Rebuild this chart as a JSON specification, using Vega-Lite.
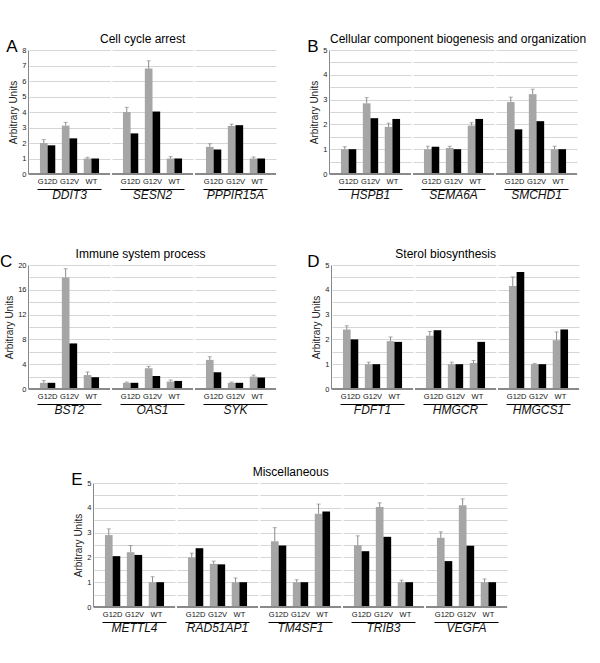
{
  "$schema": "https://vega.github.io/schema/vega-lite/v6.json",
  "padding": {"top": 33, "left": 0, "right": 2, "bottom": 2},
  "background": "white",
  "config": {
    "font": "Liberation Sans",
    "view": {"stroke": null},
    "axisY": {"labelOverlap": false, "labelSeparation": -10, "ticks": false, "labelPadding": 2, "labelFontSize": 7.5, "labelColor": "#222", "titleFontSize": 10, "titleFontWeight": "normal", "titleColor": "#222", "titlePadding": 3, "domainColor": "#888", "gridColor": "#d6d6d6"},
    "axisX": {"title": null, "labelAngle": 0, "ticks": false, "grid": false, "offset": 14, "labelPadding": -12, "labelFontSize": 7.5, "labelColor": "#111", "domainColor": "#000", "domainDash": [64, 200], "domainDashOffset": 256},
    "header": {"title": null, "labelOrient": "bottom", "labelFontStyle": "italic", "labelFontSize": 12, "labelPadding": 1, "labelColor": "#111"}
  },
  "datasets": {
    "expr": [
      {"panel": "A", "gene": "DDIT3", "cond": "G12D", "series": "s1", "value": 2.0, "hi": 2.22},
      {"panel": "A", "gene": "DDIT3", "cond": "G12D", "series": "s2", "value": 1.85},
      {"panel": "A", "gene": "DDIT3", "cond": "G12V", "series": "s1", "value": 3.12, "hi": 3.33},
      {"panel": "A", "gene": "DDIT3", "cond": "G12V", "series": "s2", "value": 2.3},
      {"panel": "A", "gene": "DDIT3", "cond": "WT", "series": "s1", "value": 1.0, "hi": 1.08},
      {"panel": "A", "gene": "DDIT3", "cond": "WT", "series": "s2", "value": 1.0},
      {"panel": "A", "gene": "SESN2", "cond": "G12D", "series": "s1", "value": 4.0, "hi": 4.3},
      {"panel": "A", "gene": "SESN2", "cond": "G12D", "series": "s2", "value": 2.62},
      {"panel": "A", "gene": "SESN2", "cond": "G12V", "series": "s1", "value": 6.8, "hi": 7.3},
      {"panel": "A", "gene": "SESN2", "cond": "G12V", "series": "s2", "value": 4.03},
      {"panel": "A", "gene": "SESN2", "cond": "WT", "series": "s1", "value": 1.0, "hi": 1.12},
      {"panel": "A", "gene": "SESN2", "cond": "WT", "series": "s2", "value": 1.0},
      {"panel": "A", "gene": "PPPIR15A", "cond": "G12D", "series": "s1", "value": 1.75, "hi": 1.95},
      {"panel": "A", "gene": "PPPIR15A", "cond": "G12D", "series": "s2", "value": 1.58},
      {"panel": "A", "gene": "PPPIR15A", "cond": "G12V", "series": "s1", "value": 3.1, "hi": 3.22},
      {"panel": "A", "gene": "PPPIR15A", "cond": "G12V", "series": "s2", "value": 3.15},
      {"panel": "A", "gene": "PPPIR15A", "cond": "WT", "series": "s1", "value": 1.0, "hi": 1.1},
      {"panel": "A", "gene": "PPPIR15A", "cond": "WT", "series": "s2", "value": 1.0},

      {"panel": "B", "gene": "HSPB1", "cond": "G12D", "series": "s1", "value": 1.0, "hi": 1.1},
      {"panel": "B", "gene": "HSPB1", "cond": "G12D", "series": "s2", "value": 1.0},
      {"panel": "B", "gene": "HSPB1", "cond": "G12V", "series": "s1", "value": 2.85, "hi": 3.08},
      {"panel": "B", "gene": "HSPB1", "cond": "G12V", "series": "s2", "value": 2.25},
      {"panel": "B", "gene": "HSPB1", "cond": "WT", "series": "s1", "value": 1.9, "hi": 2.05},
      {"panel": "B", "gene": "HSPB1", "cond": "WT", "series": "s2", "value": 2.22},
      {"panel": "B", "gene": "SEMA6A", "cond": "G12D", "series": "s1", "value": 1.0, "hi": 1.12},
      {"panel": "B", "gene": "SEMA6A", "cond": "G12D", "series": "s2", "value": 1.1},
      {"panel": "B", "gene": "SEMA6A", "cond": "G12V", "series": "s1", "value": 1.05, "hi": 1.12},
      {"panel": "B", "gene": "SEMA6A", "cond": "G12V", "series": "s2", "value": 1.0},
      {"panel": "B", "gene": "SEMA6A", "cond": "WT", "series": "s1", "value": 1.95, "hi": 2.07},
      {"panel": "B", "gene": "SEMA6A", "cond": "WT", "series": "s2", "value": 2.22},
      {"panel": "B", "gene": "SMCHD1", "cond": "G12D", "series": "s1", "value": 2.9, "hi": 3.1},
      {"panel": "B", "gene": "SMCHD1", "cond": "G12D", "series": "s2", "value": 1.8},
      {"panel": "B", "gene": "SMCHD1", "cond": "G12V", "series": "s1", "value": 3.22, "hi": 3.42},
      {"panel": "B", "gene": "SMCHD1", "cond": "G12V", "series": "s2", "value": 2.13},
      {"panel": "B", "gene": "SMCHD1", "cond": "WT", "series": "s1", "value": 1.0, "hi": 1.12},
      {"panel": "B", "gene": "SMCHD1", "cond": "WT", "series": "s2", "value": 1.0},

      {"panel": "C", "gene": "BST2", "cond": "G12D", "series": "s1", "value": 1.0, "hi": 1.35},
      {"panel": "C", "gene": "BST2", "cond": "G12D", "series": "s2", "value": 1.0},
      {"panel": "C", "gene": "BST2", "cond": "G12V", "series": "s1", "value": 18.0, "hi": 19.4},
      {"panel": "C", "gene": "BST2", "cond": "G12V", "series": "s2", "value": 7.35},
      {"panel": "C", "gene": "BST2", "cond": "WT", "series": "s1", "value": 2.25, "hi": 2.75},
      {"panel": "C", "gene": "BST2", "cond": "WT", "series": "s2", "value": 1.9},
      {"panel": "C", "gene": "OAS1", "cond": "G12D", "series": "s1", "value": 1.0, "hi": 1.12},
      {"panel": "C", "gene": "OAS1", "cond": "G12D", "series": "s2", "value": 1.0},
      {"panel": "C", "gene": "OAS1", "cond": "G12V", "series": "s1", "value": 3.35, "hi": 3.65},
      {"panel": "C", "gene": "OAS1", "cond": "G12V", "series": "s2", "value": 2.1},
      {"panel": "C", "gene": "OAS1", "cond": "WT", "series": "s1", "value": 1.2, "hi": 1.45},
      {"panel": "C", "gene": "OAS1", "cond": "WT", "series": "s2", "value": 1.3},
      {"panel": "C", "gene": "SYK", "cond": "G12D", "series": "s1", "value": 4.7, "hi": 5.2},
      {"panel": "C", "gene": "SYK", "cond": "G12D", "series": "s2", "value": 2.7},
      {"panel": "C", "gene": "SYK", "cond": "G12V", "series": "s1", "value": 1.0, "hi": 1.12},
      {"panel": "C", "gene": "SYK", "cond": "G12V", "series": "s2", "value": 1.0},
      {"panel": "C", "gene": "SYK", "cond": "WT", "series": "s1", "value": 2.0, "hi": 2.25},
      {"panel": "C", "gene": "SYK", "cond": "WT", "series": "s2", "value": 1.85},

      {"panel": "D", "gene": "FDFT1", "cond": "G12D", "series": "s1", "value": 2.4, "hi": 2.55},
      {"panel": "D", "gene": "FDFT1", "cond": "G12D", "series": "s2", "value": 2.0},
      {"panel": "D", "gene": "FDFT1", "cond": "G12V", "series": "s1", "value": 1.0, "hi": 1.08},
      {"panel": "D", "gene": "FDFT1", "cond": "G12V", "series": "s2", "value": 1.0},
      {"panel": "D", "gene": "FDFT1", "cond": "WT", "series": "s1", "value": 1.93, "hi": 2.1},
      {"panel": "D", "gene": "FDFT1", "cond": "WT", "series": "s2", "value": 1.9},
      {"panel": "D", "gene": "HMGCR", "cond": "G12D", "series": "s1", "value": 2.15, "hi": 2.32},
      {"panel": "D", "gene": "HMGCR", "cond": "G12D", "series": "s2", "value": 2.37},
      {"panel": "D", "gene": "HMGCR", "cond": "G12V", "series": "s1", "value": 1.0, "hi": 1.08},
      {"panel": "D", "gene": "HMGCR", "cond": "G12V", "series": "s2", "value": 1.0},
      {"panel": "D", "gene": "HMGCR", "cond": "WT", "series": "s1", "value": 1.05, "hi": 1.15},
      {"panel": "D", "gene": "HMGCR", "cond": "WT", "series": "s2", "value": 1.9},
      {"panel": "D", "gene": "HMGCS1", "cond": "G12D", "series": "s1", "value": 4.15, "hi": 4.52},
      {"panel": "D", "gene": "HMGCS1", "cond": "G12D", "series": "s2", "value": 4.72},
      {"panel": "D", "gene": "HMGCS1", "cond": "G12V", "series": "s1", "value": 1.0, "hi": 1.03},
      {"panel": "D", "gene": "HMGCS1", "cond": "G12V", "series": "s2", "value": 1.0},
      {"panel": "D", "gene": "HMGCS1", "cond": "WT", "series": "s1", "value": 1.97, "hi": 2.3},
      {"panel": "D", "gene": "HMGCS1", "cond": "WT", "series": "s2", "value": 2.4},

      {"panel": "E", "gene": "METTL4", "cond": "G12D", "series": "s1", "value": 2.9, "hi": 3.15},
      {"panel": "E", "gene": "METTL4", "cond": "G12D", "series": "s2", "value": 2.05},
      {"panel": "E", "gene": "METTL4", "cond": "G12V", "series": "s1", "value": 2.21, "hi": 2.48},
      {"panel": "E", "gene": "METTL4", "cond": "G12V", "series": "s2", "value": 2.1},
      {"panel": "E", "gene": "METTL4", "cond": "WT", "series": "s1", "value": 1.0, "hi": 1.22},
      {"panel": "E", "gene": "METTL4", "cond": "WT", "series": "s2", "value": 1.0},
      {"panel": "E", "gene": "RAD51AP1", "cond": "G12D", "series": "s1", "value": 2.0, "hi": 2.17},
      {"panel": "E", "gene": "RAD51AP1", "cond": "G12D", "series": "s2", "value": 2.37},
      {"panel": "E", "gene": "RAD51AP1", "cond": "G12V", "series": "s1", "value": 1.74, "hi": 1.85},
      {"panel": "E", "gene": "RAD51AP1", "cond": "G12V", "series": "s2", "value": 1.72},
      {"panel": "E", "gene": "RAD51AP1", "cond": "WT", "series": "s1", "value": 1.0, "hi": 1.17},
      {"panel": "E", "gene": "RAD51AP1", "cond": "WT", "series": "s2", "value": 1.0},
      {"panel": "E", "gene": "TM4SF1", "cond": "G12D", "series": "s1", "value": 2.65, "hi": 3.2},
      {"panel": "E", "gene": "TM4SF1", "cond": "G12D", "series": "s2", "value": 2.48},
      {"panel": "E", "gene": "TM4SF1", "cond": "G12V", "series": "s1", "value": 1.0, "hi": 1.1},
      {"panel": "E", "gene": "TM4SF1", "cond": "G12V", "series": "s2", "value": 1.0},
      {"panel": "E", "gene": "TM4SF1", "cond": "WT", "series": "s1", "value": 3.76, "hi": 4.15},
      {"panel": "E", "gene": "TM4SF1", "cond": "WT", "series": "s2", "value": 3.85},
      {"panel": "E", "gene": "TRIB3", "cond": "G12D", "series": "s1", "value": 2.49, "hi": 2.87},
      {"panel": "E", "gene": "TRIB3", "cond": "G12D", "series": "s2", "value": 2.25},
      {"panel": "E", "gene": "TRIB3", "cond": "G12V", "series": "s1", "value": 4.03, "hi": 4.2},
      {"panel": "E", "gene": "TRIB3", "cond": "G12V", "series": "s2", "value": 2.83},
      {"panel": "E", "gene": "TRIB3", "cond": "WT", "series": "s1", "value": 1.0, "hi": 1.08},
      {"panel": "E", "gene": "TRIB3", "cond": "WT", "series": "s2", "value": 1.0},
      {"panel": "E", "gene": "VEGFA", "cond": "G12D", "series": "s1", "value": 2.79, "hi": 3.03},
      {"panel": "E", "gene": "VEGFA", "cond": "G12D", "series": "s2", "value": 1.85},
      {"panel": "E", "gene": "VEGFA", "cond": "G12V", "series": "s1", "value": 4.1, "hi": 4.36},
      {"panel": "E", "gene": "VEGFA", "cond": "G12V", "series": "s2", "value": 2.47},
      {"panel": "E", "gene": "VEGFA", "cond": "WT", "series": "s1", "value": 1.0, "hi": 1.13},
      {"panel": "E", "gene": "VEGFA", "cond": "WT", "series": "s2", "value": 1.0}
    ]
  },
  "data": {"name": "expr"},
  "spacing": 50,
  "vconcat": [
    {
      "spacing": 47,
      "vconcat": [
        {
          "spacing": 30,
          "hconcat": [
            {
              "title": {"text": "A", "orient": "left", "angle": 0, "anchor": "end", "fontSize": 17, "fontWeight": "normal", "offset": -20, "dy": 6},
              "vconcat": [{
                "title": {"text": "Cell cycle arrest", "anchor": "middle", "fontSize": 12, "fontWeight": "normal", "offset": 0},
                "transform": [{"filter": "datum.panel === 'A'"}],
                "facet": {"column": {"field": "gene", "type": "nominal", "sort": ["DDIT3", "SESN2", "PPPIR15A"]}},
                "spacing": 0,
                "spec": {
                  "width": 81, "height": 124,
                  "layer": [
                    {"mark": {"type": "bar"},
                     "encoding": {
                       "x": {"field": "cond", "type": "nominal", "sort": ["G12D", "G12V", "WT"], "scale": {"paddingInner": 0.3, "paddingOuter": 0.5}},
                       "xOffset": {"field": "series", "type": "nominal", "scale": {"paddingInner": 0, "paddingOuter": 0}},
                       "y": {"field": "value", "type": "quantitative", "title": "Arbitrary Units", "scale": {"domain": [0, 8], "nice": false},
                         "axis": {"values": [0, 1, 2, 3, 4, 5, 6, 7, 8], "labelOverlap": false, "labelSeparation": -10}},
                       "color": {"field": "series", "type": "nominal", "scale": {"domain": ["s1", "s2"], "range": ["#a6a6a6", "#000000"]}, "legend": null}
                     }},
                    {"mark": {"type": "rule", "color": "#888888", "strokeWidth": 1},
                     "encoding": {"y": {"datum": 0, "type": "quantitative", "title": "Arbitrary Units", "axis": {"values": [0, 1, 2, 3, 4, 5, 6, 7, 8], "labelOverlap": false, "labelSeparation": -10}}}},
                    {"transform": [{"filter": "isValid(datum.hi)"}],
                     "mark": {"type": "rule", "color": "#8c8c8c", "strokeWidth": 1},
                     "encoding": {
                       "x": {"field": "cond", "type": "nominal", "sort": ["G12D", "G12V", "WT"]},
                       "xOffset": {"field": "series", "type": "nominal"},
                       "y": {"field": "value", "type": "quantitative", "title": "Arbitrary Units", "axis": {"values": [0, 1, 2, 3, 4, 5, 6, 7, 8], "labelOverlap": false, "labelSeparation": -10}},
                       "y2": {"field": "hi"}
                     }},
                    {"transform": [{"filter": "isValid(datum.hi)"}],
                     "mark": {"type": "tick", "color": "#8c8c8c", "orient": "horizontal", "size": 4, "thickness": 1},
                     "encoding": {
                       "x": {"field": "cond", "type": "nominal", "sort": ["G12D", "G12V", "WT"]},
                       "xOffset": {"field": "series", "type": "nominal"},
                       "y": {"field": "hi", "type": "quantitative", "title": "Arbitrary Units", "axis": {"values": [0, 1, 2, 3, 4, 5, 6, 7, 8], "labelOverlap": false, "labelSeparation": -10}}
                     }}
                  ]
                }
              }]
            },
            {
              "title": {"text": "B", "orient": "left", "angle": 0, "anchor": "end", "fontSize": 17, "fontWeight": "normal", "offset": -20, "dy": 6},
              "vconcat": [{
                "title": {"text": "Cellular component biogenesis and organization", "anchor": "start", "frame": "group", "fontSize": 12, "fontWeight": "normal", "offset": 0},
                "transform": [{"filter": "datum.panel === 'B'"}],
                "facet": {"column": {"field": "gene", "type": "nominal", "sort": ["HSPB1", "SEMA6A", "SMCHD1"]}},
                "spacing": 0,
                "spec": {
                  "width": 81, "height": 124,
                  "layer": [
                    {"mark": {"type": "bar"},
                     "encoding": {
                       "x": {"field": "cond", "type": "nominal", "sort": ["G12D", "G12V", "WT"], "scale": {"paddingInner": 0.3, "paddingOuter": 0.5}},
                       "xOffset": {"field": "series", "type": "nominal", "scale": {"paddingInner": 0, "paddingOuter": 0}},
                       "y": {"field": "value", "type": "quantitative", "title": "Arbitrary Units", "scale": {"domain": [0, 5], "nice": false},
                         "axis": {"values": [0, 0.5, 1, 1.5, 2, 2.5, 3, 3.5, 4, 4.5, 5], "labelExpr": "datum.value % 1 === 0 ? format(datum.value, 'd') : ''", "labelOverlap": false, "labelSeparation": -10}},
                       "color": {"field": "series", "type": "nominal", "scale": {"domain": ["s1", "s2"], "range": ["#a6a6a6", "#000000"]}, "legend": null}
                     }},
                    {"mark": {"type": "rule", "color": "#888888", "strokeWidth": 1},
                     "encoding": {"y": {"datum": 0, "type": "quantitative", "title": "Arbitrary Units", "axis": {"values": [0, 0.5, 1, 1.5, 2, 2.5, 3, 3.5, 4, 4.5, 5], "labelExpr": "datum.value % 1 === 0 ? format(datum.value, 'd') : ''", "labelOverlap": false, "labelSeparation": -10}}}},
                    {"transform": [{"filter": "isValid(datum.hi)"}],
                     "mark": {"type": "rule", "color": "#8c8c8c", "strokeWidth": 1},
                     "encoding": {
                       "x": {"field": "cond", "type": "nominal", "sort": ["G12D", "G12V", "WT"]},
                       "xOffset": {"field": "series", "type": "nominal"},
                       "y": {"field": "value", "type": "quantitative", "title": "Arbitrary Units", "axis": {"values": [0, 0.5, 1, 1.5, 2, 2.5, 3, 3.5, 4, 4.5, 5], "labelExpr": "datum.value % 1 === 0 ? format(datum.value, 'd') : ''", "labelOverlap": false, "labelSeparation": -10}},
                       "y2": {"field": "hi"}
                     }},
                    {"transform": [{"filter": "isValid(datum.hi)"}],
                     "mark": {"type": "tick", "color": "#8c8c8c", "orient": "horizontal", "size": 4, "thickness": 1},
                     "encoding": {
                       "x": {"field": "cond", "type": "nominal", "sort": ["G12D", "G12V", "WT"]},
                       "xOffset": {"field": "series", "type": "nominal"},
                       "y": {"field": "hi", "type": "quantitative", "title": "Arbitrary Units", "axis": {"values": [0, 0.5, 1, 1.5, 2, 2.5, 3, 3.5, 4, 4.5, 5], "labelExpr": "datum.value % 1 === 0 ? format(datum.value, 'd') : ''", "labelOverlap": false, "labelSeparation": -10}}
                     }}
                  ]
                }
              }]
            }
          ]
        },
        {
          "spacing": 30,
          "hconcat": [
            {
              "title": {"text": "C", "orient": "left", "angle": 0, "anchor": "end", "fontSize": 17, "fontWeight": "normal", "offset": -20, "dy": 6},
              "vconcat": [{
                "title": {"text": "Immune system process", "anchor": "middle", "fontSize": 12, "fontWeight": "normal", "offset": 0},
                "transform": [{"filter": "datum.panel === 'C'"}],
                "facet": {"column": {"field": "gene", "type": "nominal", "sort": ["BST2", "OAS1", "SYK"]}},
                "spacing": 0,
                "spec": {
                  "width": 81, "height": 124,
                  "layer": [
                    {"mark": {"type": "bar"},
                     "encoding": {
                       "x": {"field": "cond", "type": "nominal", "sort": ["G12D", "G12V", "WT"], "scale": {"paddingInner": 0.3, "paddingOuter": 0.5}},
                       "xOffset": {"field": "series", "type": "nominal", "scale": {"paddingInner": 0, "paddingOuter": 0}},
                       "y": {"field": "value", "type": "quantitative", "title": "Arbitrary Units", "scale": {"domain": [0, 20], "nice": false},
                         "axis": {"values": [0, 2, 4, 6, 8, 10, 12, 14, 16, 18, 20], "labelExpr": "datum.value % 4 === 0 ? format(datum.value, 'd') : ''", "labelOverlap": false, "labelSeparation": -10}},
                       "color": {"field": "series", "type": "nominal", "scale": {"domain": ["s1", "s2"], "range": ["#a6a6a6", "#000000"]}, "legend": null}
                     }},
                    {"mark": {"type": "rule", "color": "#888888", "strokeWidth": 1},
                     "encoding": {"y": {"datum": 0, "type": "quantitative", "title": "Arbitrary Units", "axis": {"values": [0, 2, 4, 6, 8, 10, 12, 14, 16, 18, 20], "labelExpr": "datum.value % 4 === 0 ? format(datum.value, 'd') : ''", "labelOverlap": false, "labelSeparation": -10}}}},
                    {"transform": [{"filter": "isValid(datum.hi)"}],
                     "mark": {"type": "rule", "color": "#8c8c8c", "strokeWidth": 1},
                     "encoding": {
                       "x": {"field": "cond", "type": "nominal", "sort": ["G12D", "G12V", "WT"]},
                       "xOffset": {"field": "series", "type": "nominal"},
                       "y": {"field": "value", "type": "quantitative", "title": "Arbitrary Units", "axis": {"values": [0, 2, 4, 6, 8, 10, 12, 14, 16, 18, 20], "labelExpr": "datum.value % 4 === 0 ? format(datum.value, 'd') : ''", "labelOverlap": false, "labelSeparation": -10}},
                       "y2": {"field": "hi"}
                     }},
                    {"transform": [{"filter": "isValid(datum.hi)"}],
                     "mark": {"type": "tick", "color": "#8c8c8c", "orient": "horizontal", "size": 4, "thickness": 1},
                     "encoding": {
                       "x": {"field": "cond", "type": "nominal", "sort": ["G12D", "G12V", "WT"]},
                       "xOffset": {"field": "series", "type": "nominal"},
                       "y": {"field": "hi", "type": "quantitative", "title": "Arbitrary Units", "axis": {"values": [0, 2, 4, 6, 8, 10, 12, 14, 16, 18, 20], "labelExpr": "datum.value % 4 === 0 ? format(datum.value, 'd') : ''", "labelOverlap": false, "labelSeparation": -10}}
                     }}
                  ]
                }
              }]
            },
            {
              "title": {"text": "D", "orient": "left", "angle": 0, "anchor": "end", "fontSize": 17, "fontWeight": "normal", "offset": -20, "dy": 6},
              "vconcat": [{
                "title": {"text": "Sterol biosynthesis", "anchor": "middle", "fontSize": 12, "fontWeight": "normal", "offset": 0},
                "transform": [{"filter": "datum.panel === 'D'"}],
                "facet": {"column": {"field": "gene", "type": "nominal", "sort": ["FDFT1", "HMGCR", "HMGCS1"]}},
                "spacing": 0,
                "spec": {
                  "width": 81, "height": 124,
                  "layer": [
                    {"mark": {"type": "bar"},
                     "encoding": {
                       "x": {"field": "cond", "type": "nominal", "sort": ["G12D", "G12V", "WT"], "scale": {"paddingInner": 0.3, "paddingOuter": 0.5}},
                       "xOffset": {"field": "series", "type": "nominal", "scale": {"paddingInner": 0, "paddingOuter": 0}},
                       "y": {"field": "value", "type": "quantitative", "title": "Arbitrary Units", "scale": {"domain": [0, 5], "nice": false},
                         "axis": {"values": [0, 0.5, 1, 1.5, 2, 2.5, 3, 3.5, 4, 4.5, 5], "labelExpr": "datum.value % 1 === 0 ? format(datum.value, 'd') : ''", "labelOverlap": false, "labelSeparation": -10}},
                       "color": {"field": "series", "type": "nominal", "scale": {"domain": ["s1", "s2"], "range": ["#a6a6a6", "#000000"]}, "legend": null}
                     }},
                    {"mark": {"type": "rule", "color": "#888888", "strokeWidth": 1},
                     "encoding": {"y": {"datum": 0, "type": "quantitative", "title": "Arbitrary Units", "axis": {"values": [0, 0.5, 1, 1.5, 2, 2.5, 3, 3.5, 4, 4.5, 5], "labelExpr": "datum.value % 1 === 0 ? format(datum.value, 'd') : ''", "labelOverlap": false, "labelSeparation": -10}}}},
                    {"transform": [{"filter": "isValid(datum.hi)"}],
                     "mark": {"type": "rule", "color": "#8c8c8c", "strokeWidth": 1},
                     "encoding": {
                       "x": {"field": "cond", "type": "nominal", "sort": ["G12D", "G12V", "WT"]},
                       "xOffset": {"field": "series", "type": "nominal"},
                       "y": {"field": "value", "type": "quantitative", "title": "Arbitrary Units", "axis": {"values": [0, 0.5, 1, 1.5, 2, 2.5, 3, 3.5, 4, 4.5, 5], "labelExpr": "datum.value % 1 === 0 ? format(datum.value, 'd') : ''", "labelOverlap": false, "labelSeparation": -10}},
                       "y2": {"field": "hi"}
                     }},
                    {"transform": [{"filter": "isValid(datum.hi)"}],
                     "mark": {"type": "tick", "color": "#8c8c8c", "orient": "horizontal", "size": 4, "thickness": 1},
                     "encoding": {
                       "x": {"field": "cond", "type": "nominal", "sort": ["G12D", "G12V", "WT"]},
                       "xOffset": {"field": "series", "type": "nominal"},
                       "y": {"field": "hi", "type": "quantitative", "title": "Arbitrary Units", "axis": {"values": [0, 0.5, 1, 1.5, 2, 2.5, 3, 3.5, 4, 4.5, 5], "labelExpr": "datum.value % 1 === 0 ? format(datum.value, 'd') : ''", "labelOverlap": false, "labelSeparation": -10}}
                     }}
                  ]
                }
              }]
            }
          ]
        }
      ]
    },
    {
      "spacing": 0,
      "hconcat": [
        {
          "width": 42, "height": 10,
          "data": {"values": []},
          "mark": {"type": "point", "opacity": 0},
          "encoding": {}
        },
        {
          "title": {"text": "E", "orient": "left", "angle": 0, "anchor": "end", "fontSize": 17, "fontWeight": "normal", "offset": -20, "dy": 6},
          "vconcat": [{
            "title": {"text": "Miscellaneous", "anchor": "middle", "fontSize": 12, "fontWeight": "normal", "offset": 0},
            "transform": [{"filter": "datum.panel === 'E'"}],
            "facet": {"column": {"field": "gene", "type": "nominal", "sort": ["METTL4", "RAD51AP1", "TM4SF1", "TRIB3", "VEGFA"]}},
            "spacing": 0,
            "spec": {
              "width": 81, "height": 124,
              "layer": [
                {"mark": {"type": "bar"},
                 "encoding": {
                   "x": {"field": "cond", "type": "nominal", "sort": ["G12D", "G12V", "WT"], "scale": {"paddingInner": 0.3, "paddingOuter": 0.5}},
                   "xOffset": {"field": "series", "type": "nominal", "scale": {"paddingInner": 0, "paddingOuter": 0}},
                   "y": {"field": "value", "type": "quantitative", "title": "Arbitrary Units", "scale": {"domain": [0, 5], "nice": false},
                     "axis": {"values": [0, 0.5, 1, 1.5, 2, 2.5, 3, 3.5, 4, 4.5, 5], "labelExpr": "datum.value % 1 === 0 ? format(datum.value, 'd') : ''", "labelOverlap": false, "labelSeparation": -10}},
                   "color": {"field": "series", "type": "nominal", "scale": {"domain": ["s1", "s2"], "range": ["#a6a6a6", "#000000"]}, "legend": null}
                 }},
                {"mark": {"type": "rule", "color": "#888888", "strokeWidth": 1},
                 "encoding": {"y": {"datum": 0, "type": "quantitative", "title": "Arbitrary Units", "axis": {"values": [0, 0.5, 1, 1.5, 2, 2.5, 3, 3.5, 4, 4.5, 5], "labelExpr": "datum.value % 1 === 0 ? format(datum.value, 'd') : ''", "labelOverlap": false, "labelSeparation": -10}}}},
                {"transform": [{"filter": "isValid(datum.hi)"}],
                 "mark": {"type": "rule", "color": "#8c8c8c", "strokeWidth": 1},
                 "encoding": {
                   "x": {"field": "cond", "type": "nominal", "sort": ["G12D", "G12V", "WT"]},
                   "xOffset": {"field": "series", "type": "nominal"},
                   "y": {"field": "value", "type": "quantitative", "title": "Arbitrary Units", "axis": {"values": [0, 0.5, 1, 1.5, 2, 2.5, 3, 3.5, 4, 4.5, 5], "labelExpr": "datum.value % 1 === 0 ? format(datum.value, 'd') : ''", "labelOverlap": false, "labelSeparation": -10}},
                   "y2": {"field": "hi"}
                 }},
                {"transform": [{"filter": "isValid(datum.hi)"}],
                 "mark": {"type": "tick", "color": "#8c8c8c", "orient": "horizontal", "size": 4, "thickness": 1},
                 "encoding": {
                   "x": {"field": "cond", "type": "nominal", "sort": ["G12D", "G12V", "WT"]},
                   "xOffset": {"field": "series", "type": "nominal"},
                   "y": {"field": "hi", "type": "quantitative", "title": "Arbitrary Units", "axis": {"values": [0, 0.5, 1, 1.5, 2, 2.5, 3, 3.5, 4, 4.5, 5], "labelExpr": "datum.value % 1 === 0 ? format(datum.value, 'd') : ''", "labelOverlap": false, "labelSeparation": -10}}
                 }}
              ]
            }
          }]
        }
      ]
    }
  ]
}
